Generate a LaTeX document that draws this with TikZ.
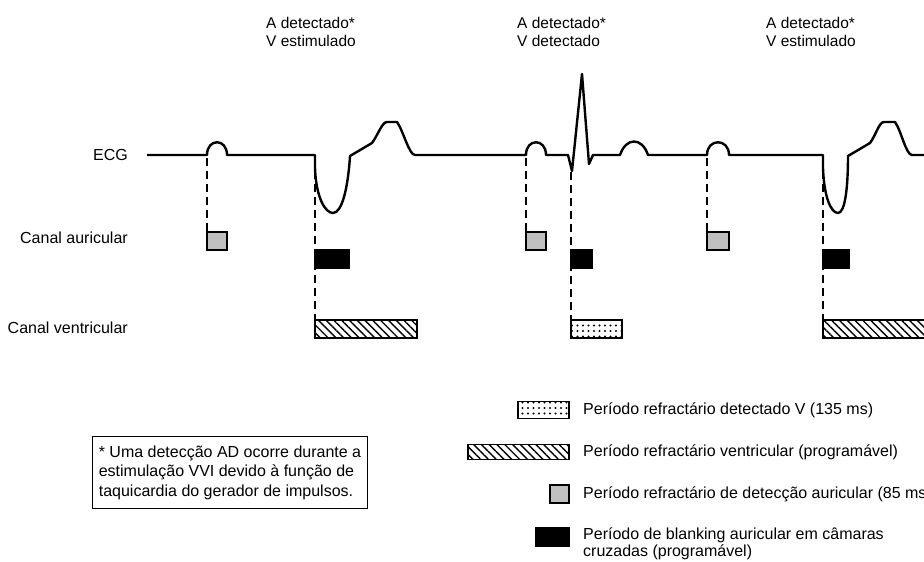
\documentclass[tikz,border=0pt]{standalone}
\usepackage{fontspec}
\setmainfont{Liberation Sans}
\usepackage{tikz}
\usetikzlibrary{patterns.meta,positioning}
\definecolor{atrgrey}{RGB}{192,192,192}
\tikzset{
    ecgline/.style={line width=2.4pt, line join=round},
    dropline/.style={line width=1.5pt, dash pattern=on 8pt off 5pt},
    atrbox/.style={draw, line width=1.3pt, fill=atrgrey, minimum width=20pt, minimum height=18pt, inner sep=0pt, outer sep=0pt},
    blankbox/.style={draw, line width=1.3pt, fill=black, minimum height=18pt, inner sep=0pt, outer sep=0pt},
    vrefbox/.style={draw, line width=1.3pt, pattern={Lines[angle=-45,distance=5.5pt,line width=1.4pt]}, minimum height=18pt, inner sep=0pt, outer sep=0pt},
    vsensebox/.style={draw, line width=1.3pt, pattern={Dots[distance=5.5pt,radius=1.2pt]}, minimum height=18pt, inner sep=0pt, outer sep=0pt},
    leadlabel/.style={anchor=east, font=\fontsize{16}{19}\selectfont, inner sep=0pt},
    eventlabel/.style={anchor=north west, align=left, font=\fontsize{15.5}{18}\selectfont, inner sep=0pt},
    legendtext/.style={anchor=west, align=left, font=\fontsize{16}{17.5}\selectfont, inner sep=0pt}
}

\begin{document}
\begin{tikzpicture}[x=1pt, y=-1pt]
    \useasboundingbox (0,0) rectangle (924,562);
    \clip (0,0) rectangle (924,562);

    % lead names
    \node[leadlabel] (ecg) at (128,155) {ECG};
    \node[leadlabel] (achan) at (128,238) {Canal auricular};
    \node[leadlabel] (vchan) at (128,328) {Canal ventricular};

    % events above the trace
    \node[eventlabel] (ev1) at (266,17) {A detectado*\\V estimulado};
    \node[eventlabel] (ev2) at (517,17) {A detectado*\\V detectado};
    \node[eventlabel] (ev3) at (766,17) {A detectado*\\V estimulado};

    % ECG trace
    \draw[ecgline] (147,155) -- (207,155)
        .. controls (207,138) and (227,138) .. (227,155)
        -- (315,155) -- (315,168)
        .. controls (316,197) and (325,213) .. (333,213)
        .. controls (342,213) and (348,188) .. (350,156)
        -- (372,143)
        .. controls (378,135) and (382,122) .. (387,122)
        -- (397,122)
        .. controls (403,130) and (409,155) .. (415,155)
        -- (526,155)
        .. controls (526,138) and (546,138) .. (546,155)
        -- (568,155) -- (572,171) -- (582,74) -- (589,164) -- (593,155)
        -- (620,155)
        .. controls (626,137) and (642,137) .. (648,155)
        -- (707,155)
        .. controls (707,138) and (729,138) .. (729,155)
        -- (823,155) -- (823,168)
        .. controls (824,197) and (831,213) .. (838,213)
        .. controls (845,213) and (848,188) .. (848,156)
        -- (870,143)
        .. controls (876,135) and (879,122) .. (884,122)
        -- (895,122)
        .. controls (901,130) and (906,155) .. (912,155)
        -- (930,155);

    \coordinate (pa1) at (207,158);
    \coordinate (pv1) at (315,158);
    \coordinate (pa2) at (526,158);
    \coordinate (sv2) at (571,172);
    \coordinate (pa3) at (707,158);
    \coordinate (pv3) at (823,158);

    % atrial channel
    \node[atrbox, anchor=north west] (ab1) at (207,232) {};
    \node[atrbox, anchor=north west] (ab2) at (526,232) {};
    \node[atrbox, anchor=north west, minimum width=22pt] (ab3) at (707,232) {};

    % cross-chamber blanking
    \node[blankbox, anchor=north west, minimum width=34pt] (bk1) at (315,250) {};
    \node[blankbox, anchor=north west, minimum width=21pt] (bk2) at (571,250) {};
    \node[blankbox, anchor=north west, minimum width=26pt] (bk3) at (823,250) {};

    % ventricular channel
    \node[vrefbox, anchor=north west, minimum width=102pt] (vr1) at (315,320) {};
    \node[vsensebox, anchor=north west, minimum width=51pt] (vs2) at (571,320) {};
    \node[vrefbox, anchor=north west, minimum width=110pt] (vr3) at (823,320) {};

    \draw[dropline] (pa1) -- (ab1.north west);
    \draw[dropline] (pa2) -- (ab2.north west);
    \draw[dropline] (pa3) -- (ab3.north west);
    \draw[dropline] (pv1) -- (vr1.north west);
    \draw[dropline] (sv2) -- (vs2.north west);
    \draw[dropline] (pv3) -- (vr3.north west);

    % footnote
    \node[draw, line width=1pt, anchor=north west, minimum width=275pt, minimum height=72pt, align=left, inner sep=0pt, font=\fontsize{16}{19.5}\selectfont] (note) at (92,436) {* Uma detecção AD ocorre durante a\\estimulação VVI devido à função de\\taquicardia do gerador de impulsos.};

    % legend
    \node[vsensebox, anchor=east, minimum width=51pt, minimum height=17pt] (lgsense) at (569,410) {};
    \node[vrefbox, anchor=east, minimum width=101pt, minimum height=15pt] (lgvref) at (569,452) {};
    \node[atrbox, anchor=east, minimum width=19pt] (lgatr) at (569,494) {};
    \node[blankbox, anchor=east, minimum width=33pt] (lgblank) at (569,537) {};

    \node[legendtext, right=14pt of lgsense] (lgsensetxt) {Período refractário detectado V (135 ms)};
    \node[legendtext, right=14pt of lgvref] (lgvreftxt) {Período refractário ventricular (programável)};
    \node[legendtext, right=14pt of lgatr] (lgatrtxt) {Período refractário de detecção auricular (85 ms)};
    \node[legendtext, right=14pt of lgblank, yshift=-7pt] (lgblanktxt) {Período de blanking auricular em câmaras\\cruzadas (programável)};
\end{tikzpicture}
\end{document}
